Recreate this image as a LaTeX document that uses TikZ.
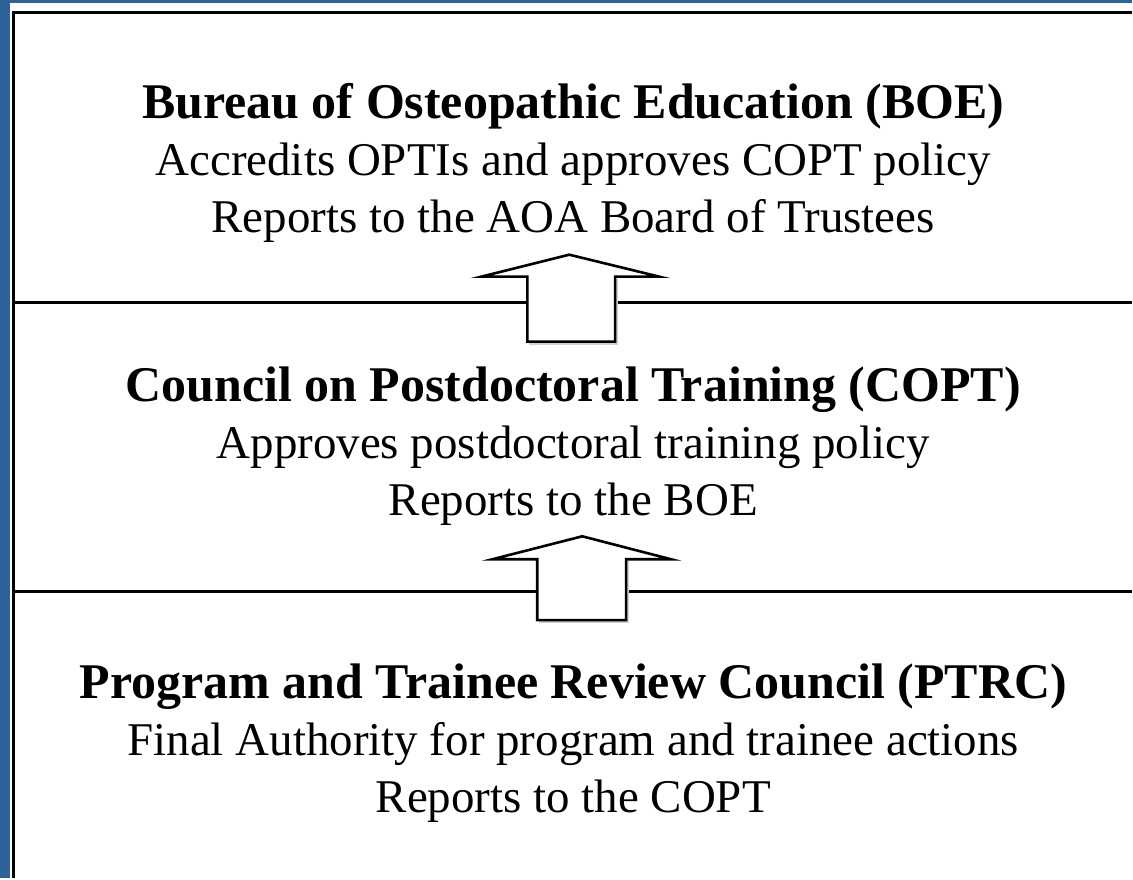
\documentclass[tikz,border=0pt]{standalone}
\usepackage{fontspec}
\setmainfont{Liberation Serif}
\usepackage{xcolor}
\usepackage{tikz}
\definecolor{frameblue}{RGB}{46,99,153}
\definecolor{shadowgray}{RGB}{210,210,210}
\newcommand{\headline}[1]{{\fontsize{25}{28.5}\selectfont\textbf{#1}}}

\begin{document}
\begin{tikzpicture}[x=0.5pt, y=-0.5pt, line join=miter]
    \tikzstyle{body} = [align=center, font=\fontsize{23.5}{28.5}\selectfont, inner sep=0pt]
    \tikzstyle{rule} = [draw=black, line width=1.5pt]
    \tikzstyle{blockarrow} = [draw=black, fill=white, line width=1.3pt]
    \tikzstyle{arrowshadow} = [fill=shadowgray]

    % outer frame
    \fill [frameblue] (0,0) rectangle (1133,879);
    \fill [white] (10,3) rectangle (1133,879);
    \draw [rule] (1133,13) -- (14,13) -- (14,879);

    % dividers between the three bodies
    \draw [rule] (14,303) -- (1133,303);
    \draw [rule] (14,592) -- (1133,592);

    % the three bodies, top to bottom
    \node [body] (boe) at (574,163) {\headline{Bureau of Osteopathic Education (BOE)}\\
        Accredits OPTIs and approves COPT policy\\
        Reports to the AOA Board of Trustees};
    \node [body] (copt) at (574,447) {\headline{Council on Postdoctoral Training (COPT)}\\
        Approves postdoctoral training policy\\
        Reports to the BOE};
    \node [body] (ptrc) at (574,744) {\headline{Program and Trainee Review Council (PTRC)}\\
        Final Authority for program and trainee actions\\
        Reports to the COPT};

    % block arrows pointing upwards
    \coordinate (tipa) at (570,255);
    \coordinate (tipb) at (583,537);
    \fill [arrowshadow] (530,279) rectangle (619,345);
    \draw [blockarrow] (tipa) -- (660,277) -- (616,277) -- (616,342) -- (528,342) -- (528,277) -- (482,277) -- cycle;
    \fill [arrowshadow] (540,562) rectangle (630,624);
    \draw [blockarrow] (tipb) -- (672,560) -- (627,560) -- (627,621) -- (538,621) -- (538,560) -- (493,560) -- cycle;
\end{tikzpicture}
\end{document}
